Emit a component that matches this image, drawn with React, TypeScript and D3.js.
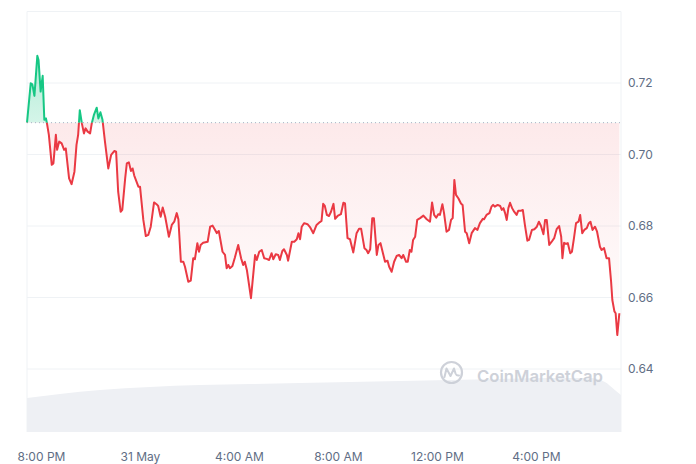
import React from "react";
import * as d3 from "d3";

// minutes since 30 May 19:25
const minutes = [0,9,13,18,25,28,33,38,42,46,49,53,60,64,70,73,78,84,90,94,102,108,115,120,124,128,133,138,142,147,153,157,162,169,173,178,183,189,197,204,212,216,221,227,231,238,242,247,252,256,260,270,274,282,288,294,300,308,314,318,324,329,335,344,351,357,363,367,373,379,383,391,397,403,407,413,417,421,427,438,444,450,456,460,465,474,480,484,488,492,498,504,512,519,524,528,533,543,553,557,563,569,575,581,587,593,597,603,609,613,619,623,630,633,642,648,654,658,662,666,672,680,686,694,702,710,714,718,722,727,732,737,743,747,753,761,767,771,777,783,791,799,805,810,818,823,827,832,837,841,848,852,857,862,868,874,878,884,890,896,902,908,912,919,923,928,932,936,941,946,953,961,969,977,982,987,992,997,1001,1007,1011,1017,1023,1028,1032,1036,1040,1046,1052,1056,1062,1066,1072,1078,1086,1092,1098,1105,1108,1114,1121,1126,1130,1134,1141,1147,1151,1155,1159,1163,1167,1171,1176,1181,1187,1191,1198,1202,1207,1213,1217,1224,1230,1236,1241,1246,1252,1256,1260,1266,1272,1278,1284,1290,1295,1298,1302,1307,1311,1317,1321,1326,1331,1337,1341,1346,1351,1357,1362,1366,1371,1377,1382,1389,1393,1399,1405,1411,1416,1419,1424,1427,1431,1436];

const prices = [0.7089,0.7199,0.7196,0.7164,0.7276,0.7264,0.7176,0.7220,0.7097,0.7101,0.7083,0.7055,0.6971,0.6975,0.7055,0.7013,0.7036,0.7031,0.7013,0.7017,0.6933,0.6917,0.6952,0.7027,0.7055,0.7124,0.7087,0.7059,0.7073,0.7064,0.7059,0.7087,0.7110,0.7131,0.7101,0.7118,0.7097,0.7036,0.6961,0.6999,0.7010,0.7008,0.6896,0.6840,0.6845,0.6933,0.6975,0.6978,0.6954,0.6961,0.6941,0.6910,0.6910,0.6817,0.6772,0.6775,0.6798,0.6866,0.6861,0.6856,0.6826,0.6852,0.6826,0.6770,0.6803,0.6812,0.6836,0.6819,0.6700,0.6700,0.6686,0.6644,0.6647,0.6710,0.6707,0.6752,0.6728,0.6747,0.6753,0.6756,0.6798,0.6801,0.6789,0.6780,0.6786,0.6728,0.6719,0.6682,0.6691,0.6682,0.6688,0.6712,0.6747,0.6710,0.6691,0.6700,0.6677,0.6598,0.6719,0.6705,0.6728,0.6733,0.6710,0.6708,0.6705,0.6724,0.6707,0.6721,0.6719,0.6705,0.6730,0.6735,0.6719,0.6703,0.6756,0.6756,0.6763,0.6780,0.6763,0.6798,0.6808,0.6805,0.6797,0.6780,0.6803,0.6811,0.6814,0.6862,0.6856,0.6831,0.6828,0.6840,0.6862,0.6820,0.6828,0.6833,0.6865,0.6863,0.6766,0.6763,0.6726,0.6780,0.6792,0.6792,0.6738,0.6733,0.6724,0.6735,0.6822,0.6822,0.6719,0.6747,0.6752,0.6728,0.6700,0.6703,0.6686,0.6672,0.6700,0.6716,0.6719,0.6710,0.6719,0.6700,0.6700,0.6733,0.6728,0.6761,0.6770,0.6817,0.6822,0.6829,0.6819,0.6812,0.6866,0.6831,0.6823,0.6833,0.6831,0.6861,0.6836,0.6784,0.6789,0.6817,0.6822,0.6929,0.6887,0.6877,0.6863,0.6859,0.6784,0.6780,0.6752,0.6780,0.6794,0.6789,0.6808,0.6820,0.6819,0.6831,0.6836,0.6854,0.6859,0.6854,0.6859,0.6856,0.6845,0.6850,0.6836,0.6817,0.6850,0.6865,0.6850,0.6840,0.6831,0.6843,0.6843,0.6845,0.6803,0.6759,0.6761,0.6789,0.6791,0.6798,0.6812,0.6800,0.6777,0.6817,0.6817,0.6747,0.6756,0.6766,0.6791,0.6800,0.6770,0.6710,0.6753,0.6750,0.6752,0.6724,0.6728,0.6766,0.6808,0.6812,0.6831,0.6780,0.6789,0.6794,0.6808,0.6812,0.6789,0.6798,0.6784,0.6742,0.6733,0.6738,0.6710,0.6710,0.6644,0.6593,0.6561,0.6556,0.6495,0.6556];

const volumeMinutes = [0,80,177,298,419,541,662,783,904,1025,1147,1268,1365,1401,1425,1440];
const volumes = [34,38,42,45,47,48,49,50,51,52,53,54,54,50,42,37];

const yTickValues = [0.64,0.66,0.68,0.70,0.72];
const gridValues = [0.64,0.66,0.68,0.70,0.72,0.74];
const xTickHours = [20,24,28,32,36,40]; // hours after 30 May 00:00
const xTickLabels = ["8:00 PM","31 May","4:00 AM","8:00 AM","12:00 PM","4:00 PM"];

const W = 696, H = 464;
const left = 27, right = 621, top = 11.5, priceBottom = 369, volBottom = 432;
const start = new Date(2024, 4, 30, 19, 25);
const toDate = (m: number) => new Date(start.getTime() + m * 60000);
const day0 = new Date(2024, 4, 30, 0, 0);

export default function App() {
  const x = d3.scaleTime().domain([start, toDate(1440)]).range([left, right]);
  const y = d3.scaleLinear().domain([0.64, 0.74]).range([priceBottom, top]);
  const yv = d3.scaleLinear().domain([0, 60]).range([volBottom, volBottom - 60]);
  const data = minutes.map((m, i) => ({ t: toDate(m), v: prices[i] }));
  const base = prices[0];
  const yb = y(base);

  const line = d3.line<any>().x(d => x(d.t)).y(d => y(d.v));
  const area = d3.area<any>().x(d => x(d.t)).y0(yb).y1(d => y(d.v));
  const volData = volumeMinutes.map((m, i) => ({ t: toDate(m), v: volumes[i] }));
  const volArea = d3.area<any>().x(d => x(d.t)).y0(volBottom).y1(d => yv(d.v)).curve(d3.curveMonotoneX);

  const green = "#16c784", red = "#ea3943";
  const font = "Inter, 'Noto Sans', Arial, sans-serif";

  return (
    <svg width={W} height={H} style={{ position: "absolute", left: 0, top: 0, display: "block", background: "#fff" }}>
      <defs>
        <clipPath id="above"><rect x={0} y={0} width={W} height={yb} /></clipPath>
        <clipPath id="below"><rect x={0} y={yb} width={W} height={H - yb} /></clipPath>
        <linearGradient id="redGrad" gradientUnits="userSpaceOnUse" x1={0} y1={yb} x2={0} y2={340}>
          <stop offset="0" stopColor={red} stopOpacity={0.11} />
          <stop offset="1" stopColor={red} stopOpacity={0.0} />
        </linearGradient>
        <linearGradient id="greenGrad" gradientUnits="userSpaceOnUse" x1={0} y1={50} x2={0} y2={yb}>
          <stop offset="0" stopColor={green} stopOpacity={0.35} />
          <stop offset="1" stopColor={green} stopOpacity={0.18} />
        </linearGradient>
      </defs>

      {gridValues.map(v => (
        <line key={v} x1={left} x2={right} y1={y(v)} y2={y(v)} stroke="#eff2f5" strokeWidth={1} />
      ))}
      <line x1={left} x2={left} y1={top} y2={volBottom} stroke="#eff2f5" />
      <line x1={right} x2={right} y1={top} y2={volBottom} stroke="#eff2f5" />

      <path d={volArea(volData) || ""} fill="#eef0f4" />

      <path d={area(data) || ""} fill="url(#greenGrad)" clipPath="url(#above)" />
      <path d={area(data) || ""} fill="url(#redGrad)" clipPath="url(#below)" />

      <line x1={left} x2={right} y1={yb} y2={yb} stroke="#a6b0c3" strokeWidth={1} strokeDasharray="1 3" />

      <path d={line(data) || ""} fill="none" stroke={green} strokeWidth={2} strokeLinejoin="round" clipPath="url(#above)" />
      <path d={line(data) || ""} fill="none" stroke={red} strokeWidth={2} strokeLinejoin="round" clipPath="url(#below)" />

      <g opacity={0.9}>
        <circle cx={451.5} cy={372.5} r={10.5} fill="none" stroke="#c9cdd5" strokeWidth={2.2} />
        <path d="M444.5,377 L446.5,368.5 L450.5,376 L454,368.5 L455.5,373.5 Q456.5,376 459,375.5" fill="none" stroke="#c9cdd5" strokeWidth={2} strokeLinejoin="round" strokeLinecap="round" />
        <text x={477} y={382} fontFamily={font} fontSize={16.5} fontWeight={600} fill="#c9cdd5" textLength={126} lengthAdjust="spacingAndGlyphs">CoinMarketCap</text>
      </g>

      {yTickValues.map(v => (
        <text key={v} x={628} y={y(v)} dy="0.35em" fontFamily={font} fontSize={12} fill="#616e85">{v.toFixed(2)}</text>
      ))}

      {xTickHours.map((h, i) => (
        <text key={h} x={x(new Date(day0.getTime() + h * 3600000))} y={457} dy="0.35em" textAnchor="middle" fontFamily={font} fontSize={12} fill="#616e85">{xTickLabels[i]}</text>
      ))}
    </svg>
  );
}
